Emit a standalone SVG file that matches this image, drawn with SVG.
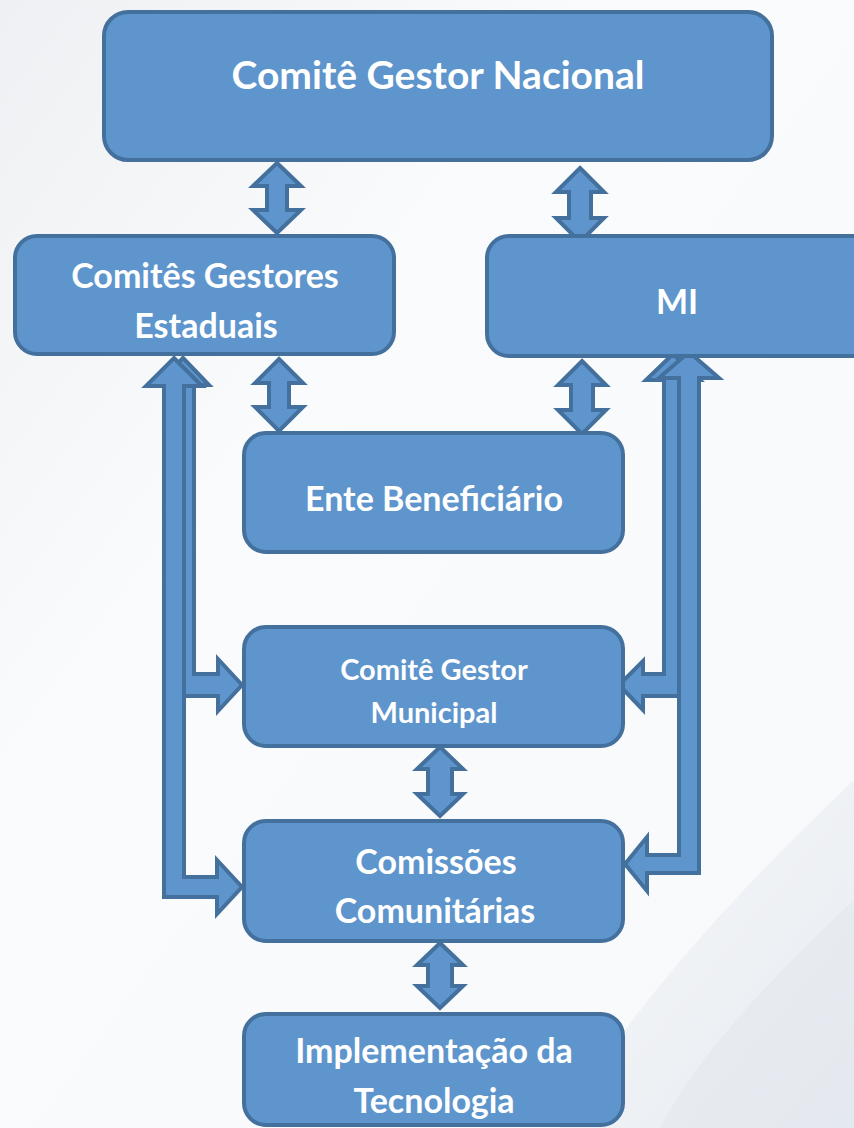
<svg xmlns="http://www.w3.org/2000/svg" width="854" height="1128" viewBox="0 0 854 1128">
  <defs>
    <linearGradient id="bg" x1="0" y1="0" x2="1" y2="1">
      <stop offset="0" stop-color="#EEF0F3"/>
      <stop offset="0.35" stop-color="#FAFBFC"/>
      <stop offset="1" stop-color="#F8F9FB"/>
    </linearGradient>
    <linearGradient id="swoosh" x1="0" y1="0" x2="1" y2="1">
      <stop offset="0" stop-color="#E6EAEF" stop-opacity="0.3"/>
      <stop offset="1" stop-color="#DCE2E9" stop-opacity="0.9"/>
    </linearGradient>
    <style>
      .box { fill: #5E95CC; stroke: #44709D; stroke-width: 4; }
      .arr { fill: #5E95CC; stroke: #44709D; stroke-width: 4; stroke-linejoin: miter; }
      .t { fill: #FFFFFF; font-family: Lato, "Open Sans", "Liberation Sans", sans-serif; font-weight: bold; text-anchor: middle; }
    </style>
  </defs>

  <rect x="0" y="0" width="854" height="1128" fill="url(#bg)"/>
  <path d="M 854 780 C 760 870 640 990 560 1128 L 854 1128 Z" fill="url(#swoosh)" opacity="0.7"/>
  <path d="M 854 900 C 780 970 700 1050 660 1128 L 854 1128 Z" fill="#E3E8EE" opacity="0.6"/>

  <g id="connectors">
    <polygon class="arr" points="277,163 301,186 287,186 287,210 301,210 277,233 253,210 267,210 267,186 253,186"/>
    <polygon class="arr" points="580,168 604,192 591,192 591,218 604,218 580,242 556,218 569,218 569,192 556,192"/>
    <polygon class="arr" points="279,359 303,383 289,383 289,407 303,407 279,431 255,407 269,407 269,383 255,383"/>
    <polygon class="arr" points="582,361 606,385 593,385 593,410 606,410 582,434 558,410 571,410 571,385 558,385"/>
    <polygon class="arr" points="440,747 463,769 452,769 452,794 463,794 440,816 417,794 428,794 428,769 417,769"/>
    <polygon class="arr" points="440,943 463,965 452,965 452,986 463,986 440,1008 417,986 428,986 428,965 417,965"/>
    <polygon class="arr" points="183,358 209,385 194,385 194,674 218,674 218,659 242,685 218,711 218,696 172,696 172,385 157,385"/>
    <polygon class="arr" points="174,358 202,386 184,386 184,877 217,877 217,860 242,887 217,914 217,897 164,897 164,386 146,386"/>
    <polygon class="arr" points="673,354 700,380 682,380 682,696 643,696 643,710 619,685 643,661 643,674 664,674 664,380 646,380"/>
    <polygon class="arr" points="689,352 719,378 699,378 699,873 647,873 647,891 625,864 647,837 647,855 679,855 679,378 659,378"/>
  </g>

  <g id="nacional">
    <rect class="box" x="104" y="12" width="668" height="148" rx="24"/>
    <text class="t" x="438" y="89" font-size="39">Comitê Gestor Nacional</text>
  </g>
  <g id="estaduais">
    <rect class="box" x="15" y="236" width="379" height="118" rx="22"/>
    <text class="t" x="205" y="288" font-size="34">Comitês Gestores</text>
    <text class="t" x="206" y="338" font-size="34">Estaduais</text>
  </g>
  <g id="mi">
    <rect class="box" x="487" y="236" width="390" height="120" rx="22"/>
    <text class="t" x="677" y="314" font-size="34">MI</text>
  </g>
  <g id="ente">
    <rect class="box" x="244" y="433" width="379" height="119" rx="22"/>
    <text class="t" x="434" y="511" font-size="34">Ente Beneficiário</text>
  </g>
  <g id="municipal">
    <rect class="box" x="244" y="627" width="379" height="119" rx="22"/>
    <text class="t" x="434" y="680" font-size="29">Comitê Gestor</text>
    <text class="t" x="434" y="723" font-size="29">Municipal</text>
  </g>
  <g id="comissoes">
    <rect class="box" x="244" y="821" width="379" height="120" rx="22"/>
    <text class="t" x="436" y="874" font-size="34">Comissões</text>
    <text class="t" x="435" y="923" font-size="34">Comunitárias</text>
  </g>
  <g id="implementacao">
    <rect class="box" x="244" y="1014" width="379" height="111" rx="22"/>
    <text class="t" x="434" y="1063" font-size="34">Implementação da</text>
    <text class="t" x="434" y="1113" font-size="34">Tecnologia</text>
  </g>
</svg>
